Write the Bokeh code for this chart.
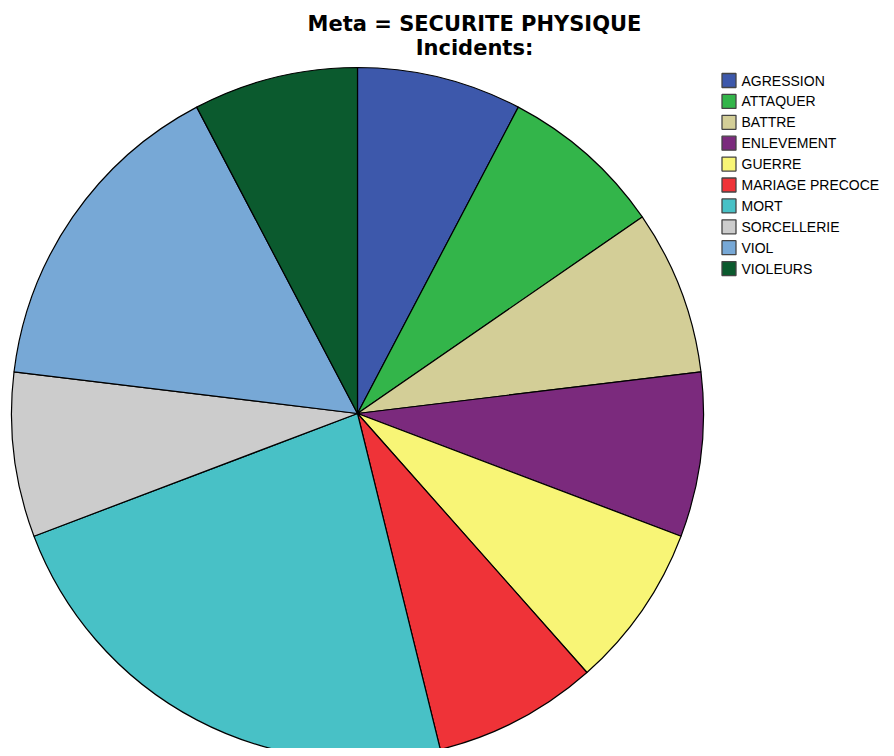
import numpy as np
from bokeh.plotting import figure
from bokeh.models import Range1d, ColumnDataSource
from bokeh.core.properties import value
from bokeh.embed import file_html
from bokeh.resources import INLINE

title_lines = ["Meta = SECURITE PHYSIQUE", "Incidents:"]
categories = ["AGRESSION", "ATTAQUER", "BATTRE", "ENLEVEMENT", "GUERRE",
              "MARIAGE PRECOCE", "MORT", "SORCELLERIE", "VIOL", "VIOLEURS"]
counts = [1, 1, 1, 1, 1, 1, 3, 1, 2, 1]
colors = ["#3d58ab", "#33b54a", "#d3ce97", "#7b2a7d", "#f8f576",
          "#ef3338", "#48c1c6", "#cccccc", "#77a8d6", "#0b5a2e"]

W, H = 886, 748
p = figure(width=W, height=H, output_backend="svg", toolbar_location=None,
           x_range=Range1d(0, W), y_range=Range1d(0, H), min_border=0)
p.axis.visible = False
p.grid.visible = False
p.outline_line_color = None
p.background_fill_color = "white"

# screenshot pixel (x, y) -> data coords
def X(px):
    return px
def Y(py):
    return H - py

vals = np.array(counts, dtype=float)
frac = vals / vals.sum()
cum_end = np.cumsum(frac) * 2 * np.pi
cum_start = cum_end - frac * 2 * np.pi
start_angle = np.pi / 2 - cum_end
end_angle = np.pi / 2 - cum_start

cx, cy, r = X(357), Y(413), 346
src = ColumnDataSource(dict(cat=categories, color=colors,
                            start=start_angle, end=end_angle))
p.wedge(x=cx, y=cy, radius=r, start_angle="start", end_angle="end",
        fill_color="color", line_color="black", line_width=1.2, source=src)

# title
p.text(x=[X(474)] * 2, y=[Y(23), Y(47)], text=title_lines,
       text_font=value("DejaVu Sans"), text_font_style="bold",
       text_font_size="21px", text_align="center", text_baseline="middle",
       text_color="black")

# legend
n = len(categories)
ly = [Y(80 + i * 20.9) for i in range(n)]
p.rect(x=[X(728.5)] * n, y=ly, width=14, height=14, fill_color=colors,
       line_color="#444444", line_width=1.3)
p.text(x=[X(741)] * n, y=ly, text=categories,
       text_font=value("Liberation Sans"), text_font_size="14px",
       text_align="left", text_baseline="middle", text_color="black")

open("out.html", "w").write(file_html(p, INLINE))
